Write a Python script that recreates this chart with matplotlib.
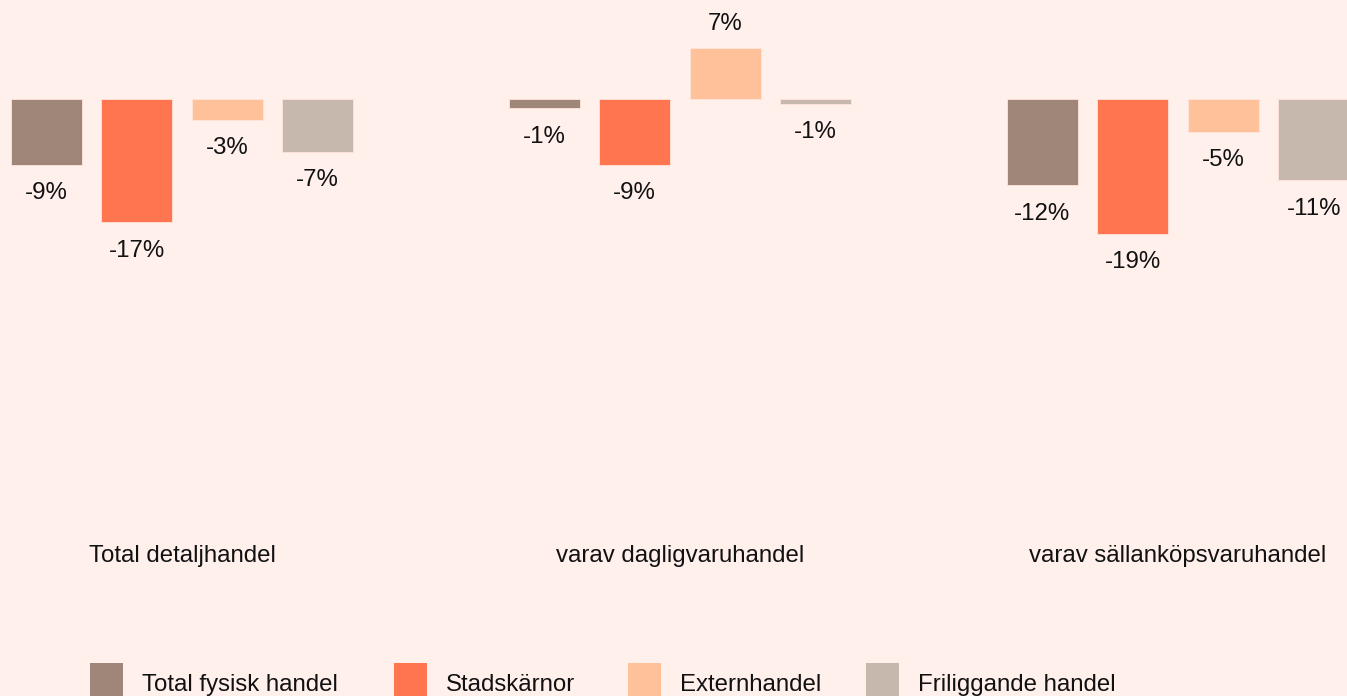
import numpy as np
import matplotlib.pyplot as plt
from matplotlib.patches import Rectangle

plt.rcParams['font.family'] = ['Liberation Sans', 'DejaVu Sans']

categories = ['Total detaljhandel', 'varav dagligvaruhandel', 'varav sällanköpsvaruhandel']
series = ['Total fysisk handel', 'Stadskärnor', 'Externhandel', 'Friliggande handel']
values = {
    'Total fysisk handel': [-9.1, -1.25, -11.9],
    'Stadskärnor': [-17.0, -9.1, -18.6],
    'Externhandel': [-2.9, 7.0, -4.55],
    'Friliggande handel': [-7.3, -0.65, -11.2],
}
labels = {
    'Total fysisk handel': ['-9%', '-1%', '-12%'],
    'Stadskärnor': ['-17%', '-9%', '-19%'],
    'Externhandel': ['-3%', '7%', '-5%'],
    'Friliggande handel': ['-7%', '-1%', '-11%'],
}
colors = ['#A08678', '#FF754F', '#FFC19A', '#C7B8AE']
bg = '#FFF0EB'
fs = 17.3

W, H = 1347, 696
fig = plt.figure(figsize=(W / 100, H / 100), dpi=100, facecolor=bg)
ax = fig.add_axes([0, 0, 1, 1])
ax.set_facecolor(bg)

# pixel geometry of the original
grp_px = 498.0
x0_px = 182.0
zero_px = 99.0
px_per = 7.25

x = np.arange(len(categories))
width = 71 / grp_px
step = 90.5 / grp_px

for i, s in enumerate(series):
    pos = x + (i - 1.5) * step
    ax.bar(pos, values[s], width, color=colors[i], edgecolor='#FFE4DA', linewidth=0.6)
    for xp, v, lab in zip(pos, values[s], labels[s]):
        off = 17.5 if v > 0 else -20.5
        ax.annotate(lab, (xp, v), xytext=(0, off), textcoords='offset points',
                    ha='center', va='center', fontsize=fs, color='#111111')

cat_y = -(556 - zero_px) / px_per
for xi, c in zip(x, categories):
    ax.text(xi, cat_y, c, ha='center', va='center', fontsize=fs, color='#111111')

ax.set_xlim(-x0_px / grp_px, (W - x0_px) / grp_px)
ax.set_ylim(-(H - zero_px) / px_per, zero_px / px_per)
ax.axis('off')

# legend drawn by hand (squares run off the bottom edge like the original)
leg_x = [90, 394, 628, 866]
box = 33
for i, s in enumerate(series):
    fig.add_artist(Rectangle((leg_x[i] / W, 1 - (663 + box) / H), box / W, box / H,
                             transform=fig.transFigure, facecolor=colors[i], edgecolor='none'))
    fig.text((leg_x[i] + 52) / W, 1 - 685 / H, s, ha='left', va='center',
             fontsize=fs, color='#111111')

fig.savefig('out.png', dpi=100, facecolor=bg)
